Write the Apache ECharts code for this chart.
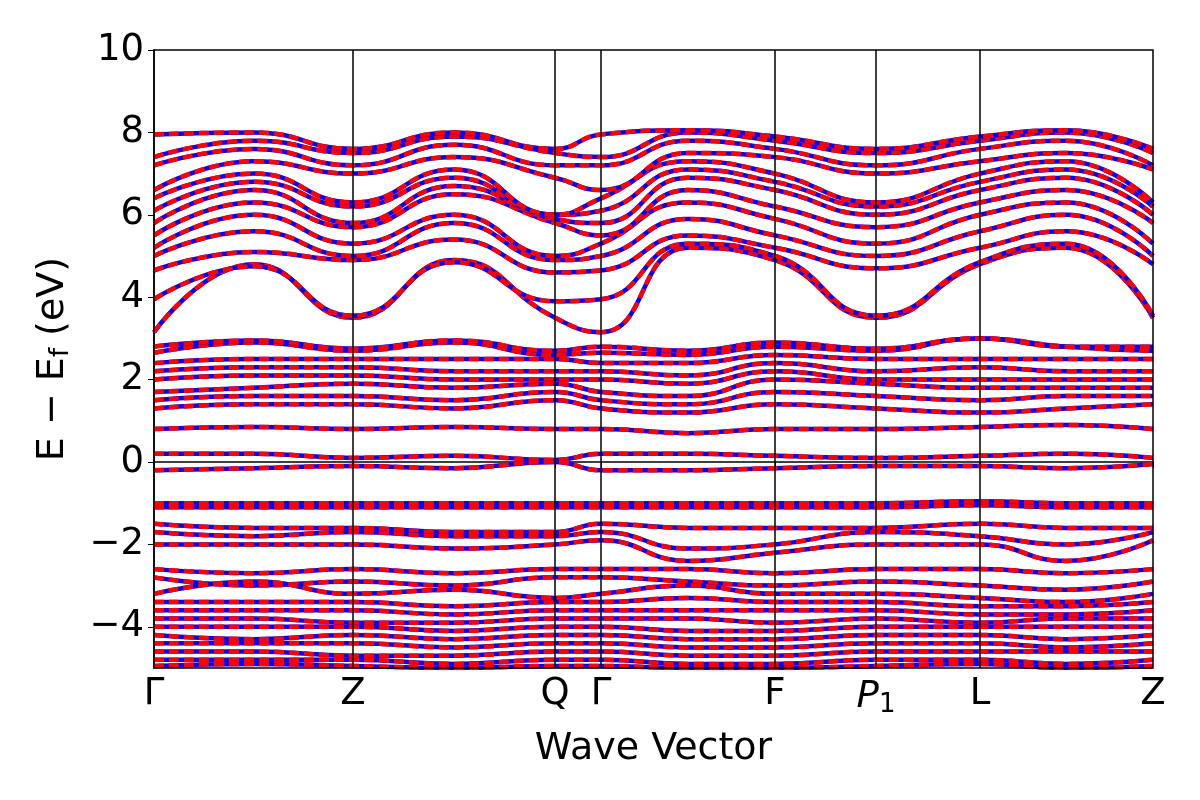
<!DOCTYPE html>
<html><head><meta charset="utf-8">
<script src="https://cdn.jsdelivr.net/npm/echarts@6/dist/echarts.min.js"></script>
<style>html,body{margin:0;background:#fff}#c{width:1200px;height:800px}</style>
</head><body><div id="c"></div>
<script>
const kpoints = [0, 100, 199, 300, 401, 447, 534, 621, 722, 826, 912, 999];
const tickPos = [0, 199, 401, 447, 621, 722, 826, 999];
const tickLabels = ['Γ', 'Z', 'Q', 'Γ', 'F', 'P1', 'L', 'Z'];
const yTicks = [-4, -2, 0, 2, 4, 6, 8, 10];
const bands = [
[3.15,4.8,3.5,4.9,3.5,3.15,5.2,4.9,3.5,4.8,5.2,3.5],
[3.95,4.75,3.55,4.85,3.9,3.95,5.3,5.0,3.55,4.85,5.3,3.55],
[4.65,5.1,4.9,5.4,4.6,4.65,5.5,5.2,4.7,5.2,5.6,4.8],
[5.0,5.6,5.0,5.8,4.9,5.0,5.9,5.5,5.0,5.6,6.0,5.0],
[5.2,6.0,5.3,6.0,5.0,5.3,6.3,5.9,5.3,6.0,6.3,5.3],
[5.5,6.3,5.7,6.5,5.8,5.5,6.6,6.2,5.7,6.3,6.6,5.8],
[5.8,6.6,5.8,6.7,5.9,5.8,6.9,6.6,6.0,6.6,6.9,6.0],
[6.1,6.8,6.2,6.9,6.0,6.1,7.1,6.8,6.2,6.8,7.1,6.2],
[6.4,7.0,6.3,7.1,6.0,6.4,7.3,7.0,6.3,7.0,7.3,6.3],
[6.6,7.3,7.0,7.4,6.9,6.6,7.5,7.4,7.0,7.3,7.5,7.1],
[7.2,7.6,7.2,7.7,7.2,7.2,7.8,7.6,7.2,7.6,7.8,7.2],
[7.4,7.8,7.5,7.9,7.5,7.4,8.0,7.8,7.5,7.8,8.0,7.5],
[7.95,8.0,7.6,8.0,7.6,7.95,8.05,7.9,7.6,7.9,8.05,7.6],
[0.8,0.85,0.8,0.85,0.8,0.8,0.7,0.8,0.8,0.85,0.9,0.8],
[1.3,1.4,1.4,1.3,1.5,1.3,1.2,1.4,1.3,1.2,1.3,1.4],
[1.5,1.6,1.6,1.5,1.7,1.5,1.4,1.7,1.6,1.5,1.6,1.6],
[1.7,1.8,1.9,1.8,1.9,1.7,1.6,2.0,1.9,1.8,1.8,1.8],
[2.0,2.1,2.1,2.0,2.0,2.0,1.9,2.2,2.0,2.0,2.0,2.0],
[2.2,2.3,2.3,2.2,2.2,2.2,2.1,2.4,2.2,2.3,2.2,2.2],
[2.4,2.5,2.5,2.5,2.5,2.4,2.4,2.6,2.5,2.5,2.5,2.5],
[2.65,2.9,2.7,2.9,2.6,2.65,2.6,2.8,2.7,3.0,2.8,2.7],
[2.8,2.95,2.75,2.95,2.7,2.8,2.7,2.9,2.75,3.0,2.8,2.8],
[0.2,0.2,0.1,0.15,0.05,0.2,0.2,0.15,0.1,0.15,0.2,0.1],
[-0.2,-0.15,-0.1,-0.15,0.0,-0.2,-0.2,-0.15,-0.1,-0.1,-0.15,-0.05],
[-1.0,-1.0,-1.0,-1.0,-1.0,-1.0,-1.0,-1.0,-1.0,-0.95,-1.0,-1.0],
[-1.1,-1.1,-1.1,-1.1,-1.1,-1.1,-1.1,-1.1,-1.1,-1.05,-1.1,-1.1],
[-1.5,-1.6,-1.6,-1.7,-1.7,-1.5,-1.6,-1.6,-1.6,-1.5,-1.6,-1.6],
[-1.7,-1.8,-1.7,-1.8,-1.8,-1.7,-2.1,-2.0,-1.7,-1.8,-2.0,-1.7],
[-2.0,-2.0,-2.0,-2.1,-2.0,-1.9,-2.4,-2.2,-2.0,-2.0,-2.4,-1.9],
[-2.6,-2.7,-2.6,-2.7,-2.6,-2.6,-2.6,-2.7,-2.6,-2.6,-2.7,-2.6],
[-2.8,-3.0,-2.9,-3.0,-2.8,-2.8,-2.9,-3.0,-2.9,-3.0,-3.1,-2.9],
[-3.2,-2.9,-3.2,-3.1,-3.3,-3.2,-3.0,-3.2,-3.2,-3.3,-3.4,-3.2],
[-3.4,-3.4,-3.4,-3.5,-3.4,-3.4,-3.3,-3.4,-3.4,-3.5,-3.5,-3.4],
[-3.6,-3.6,-3.6,-3.7,-3.6,-3.6,-3.6,-3.6,-3.6,-3.7,-3.7,-3.6],
[-3.8,-3.8,-3.9,-3.9,-3.8,-3.8,-3.8,-3.9,-3.8,-3.9,-3.8,-3.8],
[-4.0,-4.0,-4.0,-4.1,-4.0,-4.0,-4.1,-4.1,-4.0,-4.0,-4.0,-4.0],
[-4.2,-4.3,-4.2,-4.3,-4.2,-4.2,-4.3,-4.3,-4.2,-4.2,-4.3,-4.2],
[-4.4,-4.4,-4.4,-4.5,-4.4,-4.4,-4.5,-4.5,-4.4,-4.4,-4.5,-4.4],
[-4.6,-4.6,-4.7,-4.7,-4.6,-4.6,-4.7,-4.7,-4.6,-4.6,-4.6,-4.6],
[-4.8,-4.8,-4.8,-4.9,-4.8,-4.8,-4.9,-4.9,-4.8,-4.8,-4.9,-4.8],
[-4.95,-4.9,-4.95,-5.0,-4.95,-4.95,-5.0,-5.0,-4.95,-4.9,-5.0,-4.95]
];
const series = [];
bands.forEach((b, i) => {
  const d = kpoints.map((k, j) => [k, b[j]]);
  series.push({type:'line', data:d, smooth:0.5, symbol:'none', silent:true, clip:true,
    lineStyle:{color:'#0000ff', width:4.5}});
  series.push({type:'line', data:d, smooth:0.5, symbol:'none', silent:true, clip:true,
    lineStyle:{color:'#ff0000', width:4.5, type:[10,5]}});
});
series.push({type:'line', data:[], markLine:{silent:true, symbol:'none', label:{show:false},
  lineStyle:{color:'#000', width:1.5, type:'solid'},
  data: tickPos.slice(1, -1).map(x => ({xAxis:x}))}});
const chart = echarts.init(document.getElementById('c'));
chart.setOption({
  animation:false,
  grid:{left:154, right:47, top:50, bottom:132},
  xAxis:{type:'value', min:0, max:999,
    name:'Wave Vector', nameLocation:'middle', nameGap:62,
    nameTextStyle:{fontSize:38, color:'#000', fontFamily:'DejaVu Sans'},
    axisLine:{lineStyle:{color:'#000', width:1.5}},
    splitLine:{show:false},
    axisTick:{customValues:tickPos, length:6, lineStyle:{color:'#000'}},
    axisLabel:{customValues:tickPos, fontSize:37, color:'#000', fontFamily:'DejaVu Sans', margin:8,
      formatter:v => { const i = tickPos.indexOf(v); const t = tickLabels[i]; return t === 'P1' ? '{i|P}{s|1}' : t; },
      rich:{i:{fontStyle:'italic', fontSize:37, fontFamily:'DejaVu Sans'}, s:{fontSize:26, verticalAlign:'bottom', padding:[16,0,0,0], fontFamily:'DejaVu Sans'}}}},
  yAxis:{type:'value', min:-5, max:10,
    name:'{a|E − E}{b|f}{a| (eV)}', nameLocation:'middle', nameGap:80, nameRotate:90,
    nameTextStyle:{rich:{a:{fontSize:38, fontFamily:'DejaVu Sans', color:'#000'}, b:{fontSize:26, fontFamily:'DejaVu Sans', color:'#000', padding:[16,0,0,0]}}},
    axisLine:{show:true, lineStyle:{color:'#000', width:1.5}},
    splitLine:{show:false},
    axisTick:{show:true, customValues:yTicks, length:6, lineStyle:{color:'#000'}},
    axisLabel:{customValues:yTicks, fontSize:37, color:'#000', fontFamily:'DejaVu Sans', margin:10,
      formatter:v => String(v).replace('-', '−')}},
  series: series,
  graphic:[{type:'rect', shape:{x:154, y:50, width:999, height:618}, style:{fill:'none', stroke:'#000', lineWidth:1.5}, silent:true, z:100}]
});
</script></body></html>
